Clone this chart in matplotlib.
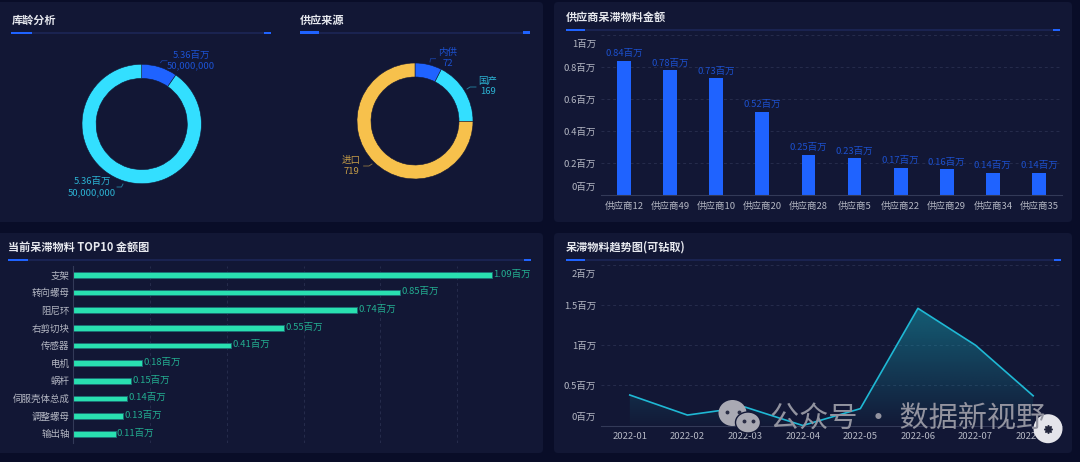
import matplotlib
matplotlib.use('Agg')
import matplotlib.pyplot as plt
from matplotlib.colors import to_rgb
from matplotlib.patches import Ellipse, FancyBboxPatch, Polygon, Rectangle
from matplotlib.transforms import ScaledTranslation
import numpy as np

plt.rcParams['font.family'] = ['Noto Sans CJK SC', 'DejaVu Sans']

# Data
age_values = [5.36, 50]
age_labels = ['5.36百万\n50,000,000', '5.36百万\n50,000,000']

source_names = ['内供', '国产', '进口']
source_values = [72, 169, 719]

suppliers = ['供应商12', '供应商49', '供应商10', '供应商20', '供应商28',
             '供应商5', '供应商22', '供应商29', '供应商34', '供应商35']
supplier_values = [0.84, 0.78, 0.73, 0.52, 0.25, 0.23, 0.17, 0.16, 0.14, 0.14]

materials = ['支架', '转向螺母', '阻尼环', '右剪切块', '传感器',
             '电机', '蜗杆', '伺服壳体总成', '调整螺母', '输出轴']
material_values = [1.09, 0.85, 0.74, 0.55, 0.41, 0.18, 0.15, 0.14, 0.13, 0.11]

months = ['2022-01', '2022-02', '2022-03', '2022-04',
          '2022-05', '2022-06', '2022-07', '2022-08']
trend_values = [0.38, 0.13, 0.23, 0.0, 0.21, 1.46, 1.0, 0.37]

supplier_ticks = [0, 0.2, 0.4, 0.6, 0.8, 1]
supplier_ticklabels = ['0百万', '0.2百万', '0.4百万', '0.6百万', '0.8百万', '1百万']
trend_ticks = [0, 0.5, 1, 1.5, 2]
trend_ticklabels = ['0百万', '0.5百万', '1百万', '1.5百万', '2百万']

BG = '#090d28'
PANEL = '#121735'
BLUE = '#1f63ff'
CYAN = '#33dfff'
YELLOW = '#f7c14c'
GREEN = '#29e0b0'
TICK = '#b4b7c3'
GRID = '#262c4c'
AXIS = '#333a58'
W, H = 1080, 462

fig = plt.figure(figsize=(W / 100, H / 100), dpi=100, facecolor=BG)


def px_axes(x0, y0, x1, y1, zorder=2):
    # axes from pixel corners, y counted from the top
    ax = fig.add_axes([x0 / W, 1 - y1 / H, (x1 - x0) / W, (y1 - y0) / H], zorder=zorder)
    ax.patch.set_alpha(0)
    return ax


bg = px_axes(0, 0, W, H, zorder=0)
bg.set_xlim(0, W)
bg.set_ylim(H, 0)
bg.axis('off')

for x0, y0, x1, y1 in [(-8, 2, 543, 222), (554, 2, 1072, 222),
                       (-8, 233, 543, 453), (554, 233, 1072, 453)]:
    bg.add_patch(FancyBboxPatch((x0 + 4, y0 + 4), x1 - x0 - 8, y1 - y0 - 8,
                                boxstyle='round,pad=4', fc=PANEL, ec='none'))

# panel titles with their underline
headers = [
    ('库龄分析', 12, 20, 11, 32, 271, 33),
    ('供应来源', 300, 20, 300, 319, 530, 32.5),
    ('供应商呆滞物料金额', 566, 17, 566, 585, 1060, 30),
    ('当前呆滞物料 TOP10 金额图', 8, 247, 8, 28, 531, 260),
    ('呆滞物料趋势图(可钻取)', 566, 247, 566, 585, 1061, 260),
]
for title, tx, ty, x0, x1, x2, ly in headers:
    bg.text(tx, ty, title, color='#e6e8ee', fontsize=8, fontweight='bold', va='center')
    bg.add_patch(Rectangle((x0, ly - 1), x2 - x0, 2, fc='#1a2350', ec='none'))
    bg.add_patch(Rectangle((x0, ly - 1.2), x1 - x0, 2.4, fc=BLUE, ec='none'))
    bg.add_patch(Rectangle((x2 - 7, ly - 1.2), 7, 2.4, fc=BLUE, ec='none'))


def dim(color, k=0.78):
    return tuple(c * k + p * (1 - k) for c, p in zip(to_rgb(color), to_rgb(PANEL)))


def donut(cx, cy, r_out, r_in, values, colors):
    ax = px_axes(cx - r_out, cy - r_out, cx + r_out, cy + r_out)
    ax.pie(values, colors=colors, startangle=90, counterclock=False, radius=1,
           wedgeprops=dict(width=1 - r_in / r_out, edgecolor=PANEL, linewidth=0.4))
    ax.set_xlim(-1, 1)
    ax.set_ylim(-1, 1)


donut(141.7, 124, 59.7, 45.6, age_values, [BLUE, CYAN])
donut(415, 121, 58, 44, source_values, [BLUE, CYAN, YELLOW])

# pie callouts
callouts = [
    (age_labels[0], 191, 60.5, BLUE, [160.5, 162, 167], [62.7, 60.7, 60.7]),
    (age_labels[1], 92, 187, CYAN, [117, 121.5, 123], [187, 187, 184]),
    (f'{source_names[0]}\n{source_values[0]}', 447.6, 58, BLUE, [430, 430.5, 435.6], [62, 58.7, 58.7]),
    (f'{source_names[1]}\n{source_values[1]}', 487.6, 86.5, CYAN, [467, 470, 476], [89, 87, 87]),
    (f'{source_names[2]}\n{source_values[2]}', 351, 166, YELLOW, [372, 369, 363.6], [164, 166, 166]),
]
for text, tx, ty, color, lx, ly in callouts:
    bg.text(tx, ty, text, color=dim(color), fontsize=6.8, ha='center', va='center', linespacing=1.25)
    bg.plot(lx, ly, color=dim(color, 0.55), lw=0.6)


def style_value_axis(ax, ticks, ticklabels, ymax):
    ax.set_ylim(0, ymax)
    ax.set_yticks(ticks)
    ax.set_yticklabels(ticklabels, color=TICK, fontsize=6.8)
    ax.tick_params(axis='both', length=0)
    ax.tick_params(axis='y', pad=3.5)
    ax.tick_params(axis='x', pad=5, colors=TICK, labelsize=6.8)
    ax.grid(axis='y', color=GRID, linestyle=(0, (3, 3)), linewidth=0.7)
    ax.set_axisbelow(True)
    for side in ['top', 'right', 'left']:
        ax.spines[side].set_visible(False)
    ax.spines['bottom'].set_color(AXIS)
    # first and last labels sit inside the axis
    labels = ax.get_yticklabels()
    labels[0].set_transform(labels[0].get_transform() + ScaledTranslation(0, 9 / 100, fig.dpi_scale_trans))
    labels[-1].set_transform(labels[-1].get_transform() + ScaledTranslation(0, -8 / 100, fig.dpi_scale_trans))


# supplier bars
ax1 = px_axes(601, 35, 1062, 195)
ax1.bar(suppliers, supplier_values, width=0.3, color=BLUE)
ax1.set_xlim(-0.5, 9.5)
style_value_axis(ax1, supplier_ticks, supplier_ticklabels, 1)
for i, v in enumerate(supplier_values):
    ax1.annotate(f'{v:.2f}百万', (i, v), xytext=(0, 2), textcoords='offset points', ha='center',
                 va='bottom', color=dim(BLUE, 0.75), fontsize=6.8, annotation_clip=False)

# top 10 materials
ax2 = px_axes(73.3, 266, 534, 442.7)
y_pos = np.arange(len(materials))
ax2.barh(y_pos, material_values, height=0.33, color=GREEN, edgecolor='#1b6f74', linewidth=0.7)
ax2.set_xlim(0, 1.2)
ax2.set_ylim(9.5, -0.5)
ax2.set_yticks(y_pos)
ax2.set_yticklabels(materials, color=TICK, fontsize=6.8)
ax2.set_xticks([0.2, 0.4, 0.6, 0.8, 1.0, 1.2])
ax2.set_xticklabels([])
ax2.tick_params(axis='both', length=0, pad=2.5)
ax2.grid(axis='x', color=GRID, linestyle=(0, (3, 3)), linewidth=0.7)
ax2.set_axisbelow(True)
for side in ['top', 'right', 'bottom']:
    ax2.spines[side].set_visible(False)
ax2.spines['left'].set_color(AXIS)
for i, v in enumerate(material_values):
    ax2.annotate(f'{v:.2f}百万', (v, i), xytext=(1, 0.7), textcoords='offset points', va='center',
                 color=dim(GREEN, 0.75), fontsize=6.8, annotation_clip=False)

# trend line with gradient fill
ax3 = px_axes(601, 265, 1062, 425.5)
x_pos = np.arange(len(months))
ax3.set_xlim(-0.5, 7.5)
grad = np.zeros((256, 2, 4))
grad[..., :3] = to_rgb('#17a3b4')
grad[..., 3] = np.linspace(0.5, 0.02, 256)[:, None]
peak = max(trend_values)
img = ax3.imshow(grad, extent=[-0.5, 7.5, 0, peak], aspect='auto', origin='upper', zorder=1)
poly = Polygon(list(zip(x_pos, trend_values)) + [(x_pos[-1], 0), (x_pos[0], 0)],
               transform=ax3.transData, fc='none', ec='none')
ax3.add_patch(poly)
img.set_clip_path(poly)
ax3.plot(x_pos, trend_values, color='#1fb8d4', lw=1.2, zorder=3)
ax3.set_xticks(x_pos)
ax3.set_xticklabels(months)
style_value_axis(ax3, trend_ticks, trend_ticklabels, 2)

# watermark and the round button on top
fg = px_axes(0, 0, W, H, zorder=10)
fg.set_xlim(0, W)
fg.set_ylim(H, 0)
fg.axis('off')
fg.text(770, 419, '公众号 · 数据新视野', color='#92939f', fontsize=21, va='center')
fg.add_patch(Ellipse((732.5, 413), 28, 26, fc='#a9a9b3', ec='none'))
fg.add_patch(Ellipse((748, 422.5), 25, 21, fc='#a9a9b3', ec=PANEL, lw=1))
for ex, ey in [(727, 412), (739, 412), (744, 421), (753, 421)]:
    fg.plot(ex, ey, 'o', color='#2a2d45', ms=1.8)
fg.add_patch(Ellipse((1048, 428.7), 29, 29, fc='#e4e4ea', ec='none'))
fg.plot(1048, 428.7, marker=(8, 1, 0), color='#22253c', ms=6)

fig.savefig('out.png', dpi=100, facecolor=BG)
